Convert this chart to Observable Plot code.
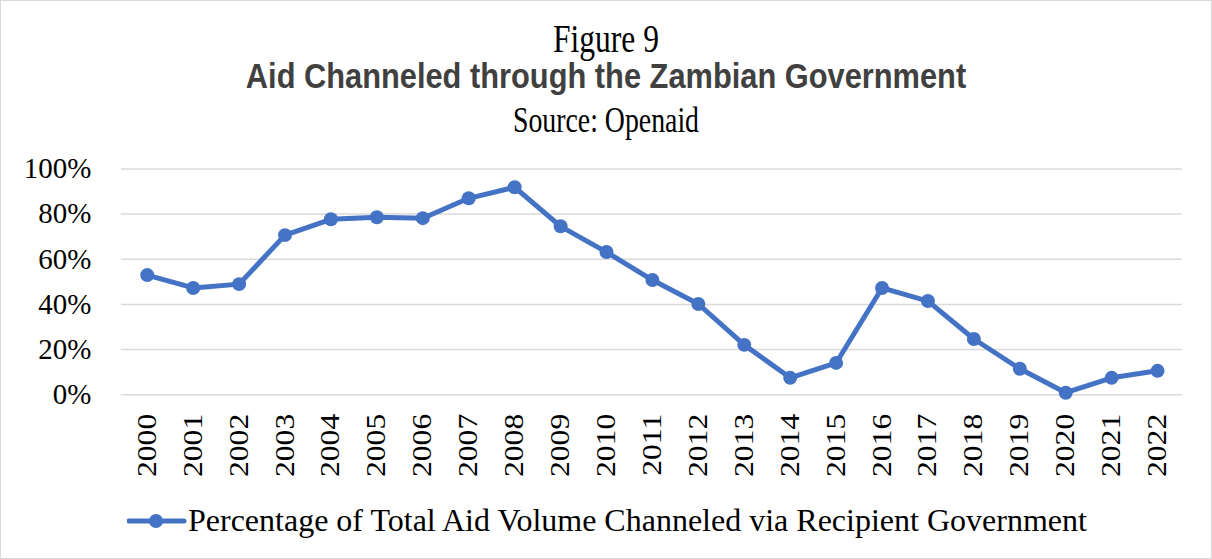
<!DOCTYPE html>
<html>
<head>
<meta charset="utf-8">
<script src="https://cdn.jsdelivr.net/npm/d3@7"></script>
<script src="https://cdn.jsdelivr.net/npm/@observablehq/plot@0.6"></script>
<style>
  html, body { margin: 0; padding: 0; background: #fff; }
  #wrap { position: relative; width: 1210px; height: 557px; border: 1px solid #d9d9d9; background: #fff; overflow: hidden; }
  .t { position: absolute; left: 0; width: 1210px; text-align: center; white-space: nowrap; line-height: 1; }
  #fig { top: 25.3px; font-family: "Liberation Serif", "Times New Roman", serif; font-size: 31.5px; color: #000;
         transform-origin: 50% 0.8375em; transform: scaleY(1.27); }
  #title { top: 62.2px; font-family: "Liberation Sans", Arial, sans-serif; font-weight: bold; font-size: 30.8px; color: #404040;
           transform-origin: 50% 0.8465em; transform: scaleY(1.14); }
  #src { top: 108.4px; font-family: "Liberation Serif", "Times New Roman", serif; font-size: 27.8px; color: #000;
         transform-origin: 50% 0.8375em; transform: scaleY(1.32); }
  #chart { position: absolute; left: 0; top: 139px; }
  #swatch { position: absolute; left: 126px; top: 510px; }
  #legtext { position: absolute; left: 187px; top: 502.5px; font: 32px/1 "Liberation Serif", "Times New Roman", serif; color: #000; white-space: nowrap; }
</style>
</head>
<body>
<div id="wrap">
  <div class="t" id="fig">Figure 9</div>
  <div class="t" id="title">Aid Channeled through the Zambian Government</div>
  <div class="t" id="src">Source: Openaid</div>
  <div id="chart"></div>
  <svg id="swatch" width="60" height="20"></svg>
  <div id="legtext"></div>
</div>
<script>
const years = ["2000","2001","2002","2003","2004","2005","2006","2007","2008","2009","2010","2011","2012","2013","2014","2015","2016","2017","2018","2019","2020","2021","2022"];
const shares = [53.0,47.3,49.0,70.7,77.7,78.6,78.2,87.0,91.9,74.6,63.2,50.8,40.2,22.1,7.5,14.1,47.3,41.5,24.7,11.5,0.9,7.5,10.6];
const yTicks = [0,20,40,60,80,100];
const seriesName = "Percentage of Total Aid Volume Channeled via Recipient Government";
const lineColor = "#4472C4";

const data = years.map((y, i) => ({year: y, value: shares[i]}));

const chart = Plot.plot({
  width: 1212,
  height: 346,
  marginTop: 28.5,
  marginBottom: 91.3,
  marginLeft: 120,
  marginRight: 29,
  style: {fontFamily: "'Liberation Serif','Times New Roman',serif", fontSize: "29px", color: "#000", background: "transparent", overflow: "visible"},
  x: {type: "point", domain: years, padding: 0.5, label: null},
  y: {domain: [0, 100], label: null},
  marks: [
    Plot.ruleY(yTicks, {stroke: "#d9d9d9", strokeWidth: 1.5}),
    Plot.axisY(yTicks, {tickSize: 0, tickPadding: 30, tickFormat: d => d + "%", fontSize: 29, label: null}),
    Plot.axisX({tickSize: 0, tickPadding: 19, tickRotate: -90, fontSize: 31.7, label: null}),
    Plot.line(data, {x: "year", y: "value", stroke: lineColor, strokeWidth: 5, strokeLinejoin: "round"}),
    Plot.dot(data, {x: "year", y: "value", r: 7, fill: lineColor, stroke: "none"})
  ]
});
// narrow the rotated year labels (glyph height) to match the reference rendering
chart.querySelectorAll('g[aria-label="x-axis tick label"] text').forEach(t => {
  const tr = t.getAttribute("transform") || "";
  t.setAttribute("transform", tr + " scale(1,0.84)");
});
const pg = chart.querySelector('g[aria-label="x-axis tick label"]');
if (pg && pg.getAttribute("transform") && !chart.querySelector('g[aria-label="x-axis tick label"] text[transform]')) {
  // fallback: nothing
}
document.getElementById("chart").appendChild(chart);

const sw = d3.select("#swatch");
sw.append("line").attr("x1", 2).attr("y1", 10).attr("x2", 57).attr("y2", 10)
  .attr("stroke", lineColor).attr("stroke-width", 5).attr("stroke-linecap", "round");
sw.append("circle").attr("cx", 29).attr("cy", 10).attr("r", 7).attr("fill", lineColor);
document.getElementById("legtext").textContent = seriesName;
</script>
</body>
</html>
